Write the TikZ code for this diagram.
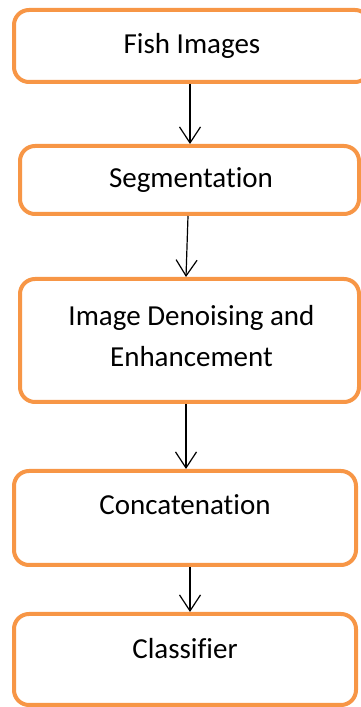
\documentclass[tikz,border=0pt]{standalone}
\usepackage{fontspec}
\setmainfont[Ligatures={NoCommon}]{Carlito}
\usetikzlibrary{arrows.meta}
\definecolor{boxorange}{RGB}{247,150,70}
\begin{document}
\begin{tikzpicture}[x=1pt,y=1pt,
  stepbox/.style={draw=boxorange, line width=4pt, rounded corners=15pt, fill=white, inner sep=0pt},
  lbl/.style={font=\fontsize{29}{40.7}\selectfont, inner sep=0pt, align=center, anchor=base},
  arr/.style={line width=1.2pt, -{Straight Barb[length=16pt,width=21pt,line width=1.2pt]}}]
\useasboundingbox (0,0) rectangle (361,707);
\node[stepbox, minimum width=356pt, minimum height=72pt] (b1) at (192,661) {};
\node[stepbox, minimum width=339pt, minimum height=68pt] (b2) at (189.5,527) {};
\node[stepbox, minimum width=339pt, minimum height=123pt] (b3) at (189.5,366.5) {};
\node[stepbox, minimum width=342pt, minimum height=94pt] (b4) at (185,189) {};
\node[stepbox, minimum width=342pt, minimum height=91pt] (b5) at (185,47.5) {};
\node[lbl] (t1) at (192,653) {Fish Images};
\node[lbl] (t2) at (191,519) {Segmentation};
\node[lbl] (t3) at (191.5,340.3) {Image Denoising and\\Enhancement};
\node[lbl] (t4) at (185,192) {Concatenation};
\node[lbl] (t5) at (185,48) {Classifier};
\draw[arr] (b1.south -| 190,0) -- (b2.north -| 190,0);
\draw[arr] (b2.south -| 188,0) -- (b3.north -| 186,0);
\draw[arr] (b3.south -| 186,0) -- (b4.north -| 186,0);
\draw[arr] (b4.south -| 190,0) -- (b5.north -| 190,0);
\end{tikzpicture}
\end{document}
